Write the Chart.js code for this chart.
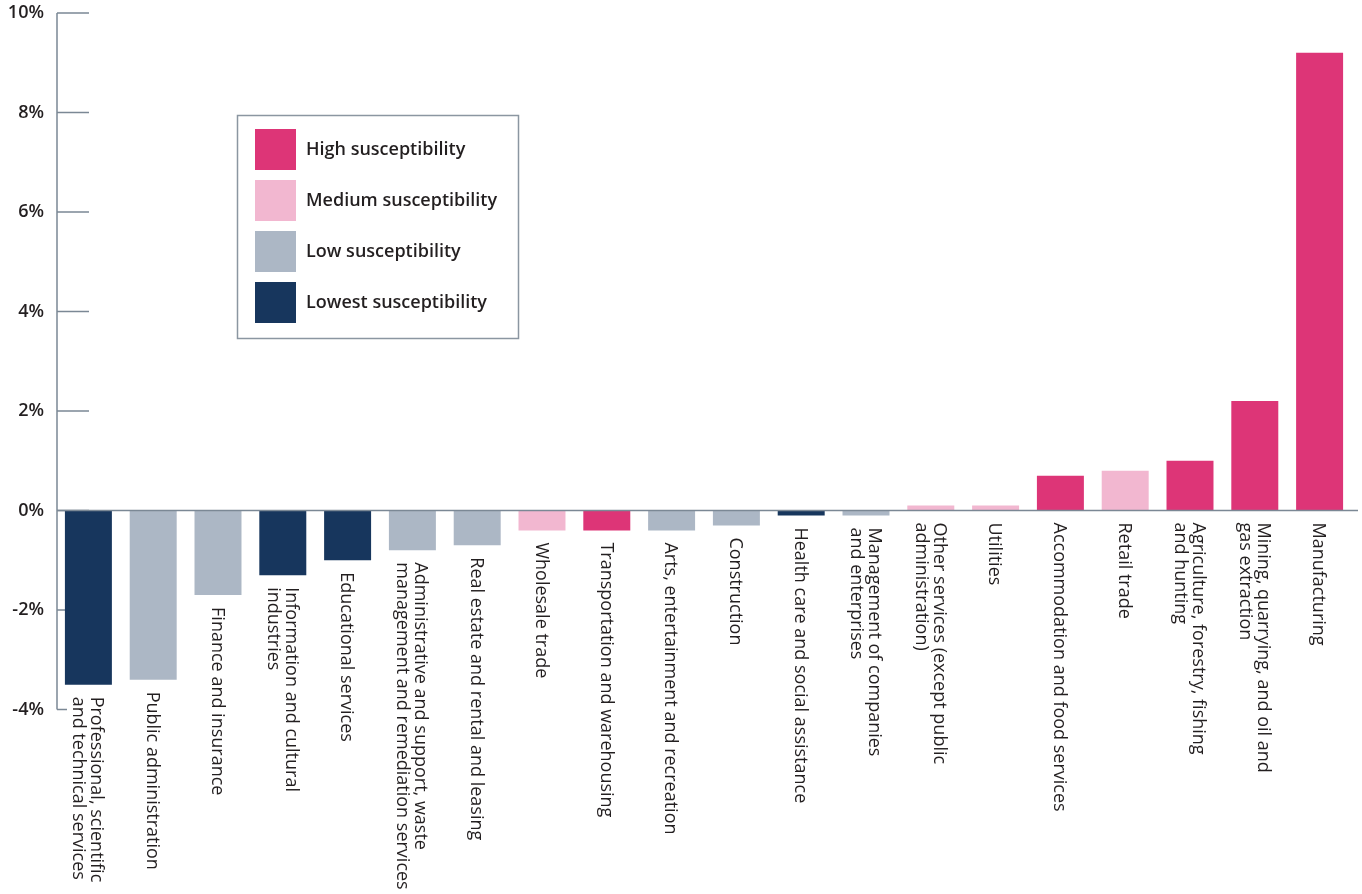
<!DOCTYPE html>
<html><head><meta charset="utf-8">
<script src="https://cdn.jsdelivr.net/npm/chart.js@4"></script>
<style>html,body{margin:0;padding:0;background:#fff}#wrap{width:1362px;height:894px;position:relative}</style>
</head><body><div id="wrap"><canvas id="c"></canvas></div>
<script>
const categories = [
  ["Professional, scientific", "and technical services"],
  ["Public administration"],
  ["Finance and insurance"],
  ["Information and cultural", "industries"],
  ["Educational services"],
  ["Administrative and support, waste", "management and remediation services"],
  ["Real estate and rental and leasing"],
  ["Wholesale trade"],
  ["Transportation and warehousing"],
  ["Arts, entertainment and recreation"],
  ["Construction"],
  ["Health care and social assistance"],
  ["Management of companies", "and enterprises"],
  ["Other services (except public", "administration)"],
  ["Utilities"],
  ["Accommodation and food services"],
  ["Retail trade"],
  ["Agriculture, forestry, fishing", "and hunting"],
  ["Mining, quarrying, and oil and", "gas extraction"],
  ["Manufacturing"]
];
const values = [-3.5, -3.4, -1.7, -1.3, -1.0, -0.8, -0.7, -0.4, -0.4, -0.4, -0.3, -0.1, -0.1, 0.1, 0.1, 0.7, 0.8, 1.0, 2.2, 9.2];
const levels = ["Lowest", "Low", "Low", "Lowest", "Lowest", "Low", "Low", "Medium", "High", "Low", "Low", "Lowest", "Low", "Medium", "Medium", "High", "Medium", "High", "High", "High"];
const levelKeys = ["High", "Medium", "Low", "Lowest"];
const levelNames = ["High susceptibility", "Medium susceptibility", "Low susceptibility", "Lowest susceptibility"];
const levelColors = ["#DD3577", "#F2B7D0", "#ACB7C5", "#17365D"];
const yTicks = [-4, -2, 0, 2, 4, 6, 8, 10];

const colorOf = k => levelColors[levelKeys.indexOf(k)];
const AXIS = "#7b8895";
const TEXT = "#231f20";

const axisPlugin = {
  id: "axisDecor",
  beforeDatasetsDraw(chart) {
    const {ctx, chartArea, scales: {y}} = chart;
    const x0 = chartArea.left + 1;
    ctx.save();
    ctx.strokeStyle = AXIS;
    ctx.lineWidth = 1.5;
    ctx.beginPath();
    ctx.moveTo(x0, y.getPixelForValue(yTicks[yTicks.length - 1]));
    ctx.lineTo(x0, y.getPixelForValue(yTicks[0]));
    yTicks.forEach((v, i) => {
      const py = y.getPixelForValue(v);
      ctx.moveTo(x0, py);
      ctx.lineTo(x0 + (i === 0 ? 10 : 32), py);
    });
    ctx.stroke();
    ctx.restore();
  },
  afterDatasetsDraw(chart) {
    const {ctx, chartArea, scales: {x, y}} = chart;
    const x0 = chartArea.left + 1;
    const y0 = y.getPixelForValue(0);
    ctx.save();
    ctx.strokeStyle = AXIS;
    ctx.lineWidth = 1.5;
    ctx.beginPath();
    ctx.moveTo(x0, y0);
    ctx.lineTo(chartArea.right + 6, y0);
    ctx.stroke();
    // category labels, rotated, under each bar
    ctx.fillStyle = TEXT;
    ctx.font = "18px 'Open Sans'";
    ctx.textAlign = "left";
    ctx.textBaseline = "middle";
    const lh = 18;
    categories.forEach((lines, i) => {
      const px = x.getPixelForValue(i);
      const py = y.getPixelForValue(Math.min(values[i], 0)) + 12;
      ctx.save();
      ctx.translate(px, py);
      ctx.rotate(Math.PI / 2);
      const n = lines.length;
      lines.forEach((t, k) => {
        ctx.fillText(t, 0, (k - (n - 1) / 2) * lh + 1);
      });
      ctx.restore();
    });
    ctx.restore();
  },
  afterDraw(chart) {
    const {ctx} = chart;
    ctx.save();
    ctx.strokeStyle = "#8b96a1";
    ctx.lineWidth = 1.5;
    ctx.strokeRect(237.5, 115.5, 281, 223);
    ctx.font = "600 18px 'Open Sans'";
    ctx.textAlign = "left";
    ctx.textBaseline = "middle";
    levelNames.forEach((name, i) => {
      ctx.fillStyle = levelColors[i];
      ctx.fillRect(255, 129 + i * 51, 41, 41);
      ctx.fillStyle = TEXT;
      ctx.fillText(name, 306, 150 + i * 51);
    });
    ctx.restore();
  }
};

new Chart(document.getElementById("c"), {
  type: "bar",
  data: {
    labels: categories.map(c => c.join(" ")),
    datasets: [{
      data: values,
      backgroundColor: levels.map(colorOf),
      borderWidth: 0,
      categoryPercentage: 1,
      barPercentage: 0.725
    }]
  },
  options: {
    responsive: true,
    maintainAspectRatio: false,
    animation: false,
    layout: {padding: {top: 13, bottom: 184.5, left: 0, right: 10}},
    plugins: {legend: {display: false}, tooltip: {enabled: false}},
    scales: {
      x: {display: false, offset: true},
      y: {
        min: -4, max: 10,
        afterFit: s => { s.width = 56; s.paddingTop = 0; s.paddingBottom = 0; },
        afterBuildTicks: s => { s.ticks = yTicks.map(v => ({value: v})); },
        ticks: {
          callback: v => v + "%",
          color: TEXT,
          padding: 12,
          font: {family: "'Open Sans'", size: 18, weight: 600}
        },
        grid: {display: false, drawTicks: false},
        border: {display: false}
      }
    }
  },
  plugins: [axisPlugin]
});
</script>
</body></html>
